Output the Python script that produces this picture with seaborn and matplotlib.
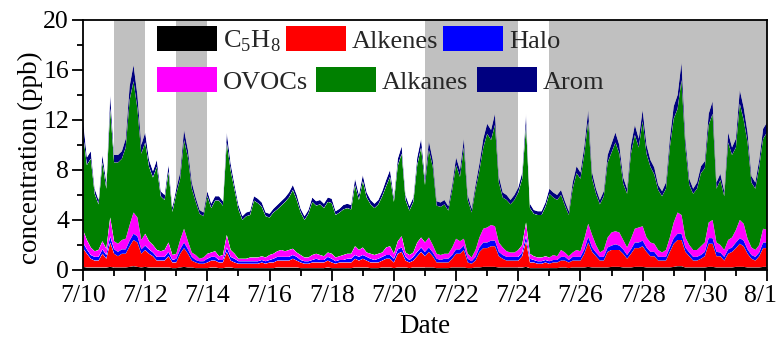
import numpy as np
import pandas as pd
import matplotlib
matplotlib.use("Agg")
import matplotlib.pyplot as plt
import matplotlib.transforms as mtransforms
from matplotlib.patches import Patch
from matplotlib.ticker import FixedLocator, MultipleLocator
import seaborn as sns
import seaborn.objects as so

# 3-hourly VOC group concentrations (ppb), 7/10 00:00 to 8/1 00:00
step_hours = 3

c5h8 = [
    .25, .2, .2, .2, .2, .2, .2, .25,
    .2, .2, .2, .2, .25, .3, .25, .2,
    .25, .2, .2, .2, .2, .2, .2, .15,
    .15, .2, .25, .2, .2, .15, .15, .15,
    .15, .2, .2, .15, .15, .2, .2, .15,
    .15, .15, .15, .15, .15, .15, .15, .15,
    .15, .15, .2, .2, .2, .2, .2, .2,
    .15, .15, .15, .15, .15, .15, .15, .2,
    .15, .15, .15, .15, .15, .15, .2, .2,
    .2, .2, .15, .15, .15, .2, .2, .2,
    .15, .2, .2, .2, .15, .2, .2, .2,
    .2, .2, .2, .15, .15, .15, .15, .2,
    .2, .2, .2, .15, .15, .2, .2, .25,
    .25, .25, .25, .2, .2, .2, .2, .2,
    .2, .2, .25, .15, .15, .15, .15, .15,
    .15, .15, .15, .2, .2, .15, .2, .2,
    .2, .2, .25, .2, .2, .2, .2, .2,
    .25, .25, .25, .2, .2, .2, .25, .25,
    .25, .2, .2, .2, .2, .2, .2, .2,
    .25, .3, .3, .2, .2, .2, .2, .2,
    .2, .25, .25, .2, .2, .2, .2, .2,
    .25, .25, .25, .2, .2, .2, .2, .25,
    .25,
]

alkenes = [
    1.5, 1.1, .7, .55, .55, 1.1, .7, 1.95,
    1.1, .9, 1.1, 1.1, 1.65, 2.1, 1.95, 1.1,
    1.35, 1.1, .9, .55, .55, .55, .9, .45,
    .45, 1.1, 1.5, 1.1, .55, .45, .35, .35,
    .45, .55, .55, .45, .45, 1.25, .55, .45,
    .35, .35, .35, .35, .35, .35, .45, .35,
    .45, .45, .55, .55, .55, .55, .7, .55,
    .45, .35, .35, .45, .45, .45, .45, .55,
    .45, .35, .45, .45, .45, .45, .7, .55,
    .7, .55, .45, .45, .45, .55, .7, .7,
    .45, 1.1, 1.25, .55, .45, .55, .9, 1.25,
    .9, 1.25, .9, .45, .45, .45, .45, .7,
    1.1, 1.1, 1.4, .45, .35, .55, 1.25, 1.5,
    1.5, 1.65, 1.65, .9, .7, .55, .55, .55,
    .55, .9, 2.05, .45, .45, .35, .35, .45,
    .35, .45, .45, .55, .55, .45, .55, .55,
    .55, 1.1, 1.95, 1.25, .9, .55, .55, 1.25,
    1.35, 1.35, 1.35, 1.1, .7, 1.1, 1.5, 1.5,
    1.65, 1.25, .9, .9, .55, .55, .55, 1.25,
    1.85, 2.1, 2.1, 1.25, .9, .55, .55, .7,
    .9, 1.85, 1.85, .9, .9, .55, 1.1, 1.25,
    1.5, 1.85, 1.65, 1.1, .7, .55, .9, 1.5,
    1.5,
]

halo = [
    .45, .35, .3, .3, .3, .35, .3, .5,
    .35, .35, .35, .35, .45, .5, .5, .35,
    .35, .35, .3, .3, .3, .3, .35, .2,
    .3, .35, .45, .35, .3, .2, .2, .2,
    .3, .3, .3, .2, .2, .35, .3, .3,
    .2, .2, .2, .2, .2, .2, .2, .2,
    .2, .3, .3, .3, .3, .3, .3, .3,
    .2, .2, .2, .2, .3, .2, .2, .3,
    .3, .2, .2, .2, .3, .3, .3, .3,
    .3, .3, .3, .2, .3, .3, .3, .3,
    .3, .35, .35, .3, .2, .3, .35, .35,
    .35, .35, .3, .3, .2, .3, .3, .3,
    .35, .35, .35, .3, .2, .3, .35, .45,
    .45, .45, .45, .35, .3, .3, .3, .3,
    .3, .3, .45, .3, .2, .2, .2, .2,
    .2, .2, .2, .3, .3, .2, .3, .3,
    .3, .35, .45, .35, .3, .3, .3, .35,
    .35, .45, .35, .35, .3, .35, .45, .45,
    .45, .35, .35, .35, .3, .3, .3, .35,
    .45, .5, .5, .35, .3, .3, .3, .3,
    .35, .45, .45, .35, .3, .3, .35, .35,
    .45, .45, .45, .35, .3, .3, .3, .45,
    .45,
]

ovocs = [
    1.0, .75, .6, .45, .55, .65, .5, 1.5,
    .65, .65, .75, .85, 1.25, 1.7, 1.5, .75,
    .95, .65, .6, .55, .45, .55, .75, .4,
    .4, .75, 1.1, .65, .35, .4, .2, .3,
    .4, .35, .45, .3, .4, 1.0, .55, .4,
    .2, .2, .2, .3, .3, .3, .3, .3,
    .4, .4, .45, .55, .45, .55, .5, .35,
    .4, .3, .3, .4, .4, .4, .3, .35,
    .4, .3, .3, .4, .4, .4, .7, .55,
    .6, .35, .4, .4, .4, .35, .6, .7,
    .4, .65, .9, .35, .4, .35, .75, .8,
    .75, .8, .6, .4, .4, .4, .4, .6,
    .85, .65, .55, .4, .3, .55, .8, 1.1,
    1.2, 1.25, 1.15, .75, .6, .45, .35, .35,
    .55, .6, 1.05, .4, .3, .3, .3, .3,
    .3, .4, .3, .55, .35, .3, .35, .55,
    .45, .85, 1.05, 1.0, .6, .35, .55, .8,
    1.05, 1.05, 1.05, .75, .6, .85, 1.1, 1.2,
    1.15, .8, .75, .65, .55, .35, .55, .8,
    1.25, 1.7, 1.5, .8, .6, .55, .55, .7,
    .75, 1.25, 1.45, .75, .6, .55, .75, .8,
    1.0, 1.45, 1.35, .85, .6, .55, .6, 1.1,
    1.0,
]

alkanes = [
    7.7, 6.0, 7.1, 4.6, 3.65, 6.3, 4.8, 8.7,
    6.3, 6.5, 6.5, 7.3, 10.0, 10.5, 8.7, 6.9,
    7.3, 5.95, 5.4, 6.65, 4.4, 4.0, 5.65, 3.45,
    4.8, 4.9, 7.1, 6.7, 5.1, 4.25, 3.6, 3.3,
    4.6, 3.55, 4.05, 4.45, 3.95, 7.4, 6.35, 5.1,
    3.95, 3.1, 3.4, 3.4, 4.55, 4.35, 3.95, 3.3,
    3.0, 3.3, 3.35, 3.55, 3.95, 4.2, 4.7, 4.2,
    3.4, 3.0, 3.5, 4.25, 3.85, 4.05, 3.85, 4.05,
    4.05, 3.4, 3.5, 3.65, 3.65, 3.55, 4.9, 4.0,
    5.3, 4.4, 3.95, 3.75, 3.95, 4.5, 4.9, 5.55,
    4.15, 6.05, 6.6, 4.2, 3.55, 4.05, 6.2, 7.2,
    4.6, 7.0, 6.25, 3.85, 3.85, 3.95, 3.45, 4.6,
    5.9, 5.15, 7.3, 4.3, 3.6, 4.8, 5.35, 6.5,
    7.5, 6.8, 8.1, 4.8, 4.0, 4.1, 3.85, 4.2,
    4.6, 5.3, 7.8, 3.65, 3.4, 3.4, 3.4, 3.95,
    5.1, 4.6, 4.5, 4.4, 3.75, 3.3, 5.1, 6.15,
    5.8, 6.8, 8.2, 4.5, 4.1, 3.85, 4.3, 6.0,
    6.4, 7.1, 6.3, 4.5, 4.3, 6.8, 7.5, 6.4,
    8.4, 6.7, 6.05, 5.55, 4.8, 4.5, 4.9, 7.2,
    8.3, 8.3, 10.8, 7.2, 4.8, 4.5, 4.9, 5.85,
    5.95, 7.8, 8.5, 4.3, 5.2, 4.3, 7.8, 6.6,
    6.6, 9.3, 8.3, 7.7, 5.2, 4.9, 6.25, 7.2,
    7.8,
]

arom = [
    1.1, .6, .6, .4, .35, .6, .5, 1.1,
    .6, .6, .6, .7, 1.1, 1.3, 1.1, .7,
    .8, .55, .5, .55, .4, .4, .55, .35,
    .4, .5, .8, .6, .5, .35, .3, .3,
    .4, .35, .35, .35, .35, .8, .55, .4,
    .35, .3, .3, .3, .35, .35, .35, .3,
    .3, .3, .35, .35, .35, .4, .4, .4,
    .3, .3, .3, .35, .35, .35, .35, .35,
    .35, .3, .3, .35, .35, .35, .5, .4,
    .5, .4, .35, .35, .35, .4, .5, .55,
    .35, .55, .6, .4, .35, .35, .6, .7,
    .5, .7, .55, .35, .35, .35, .35, .4,
    .6, .55, .7, .4, .3, .4, .55, .7,
    .8, .8, .9, .5, .4, .4, .35, .4,
    .4, .5, .9, .35, .3, .3, .3, .35,
    .4, .4, .4, .4, .35, .3, .5, .55,
    .5, .6, .9, .5, .4, .35, .4, .6,
    .7, .8, .7, .5, .4, .7, .8, .7,
    .9, .7, .55, .55, .4, .4, .5, .7,
    1.0, 1.1, 1.4, .7, .5, .4, .5, .55,
    .55, .9, 1.0, .5, .5, .4, .8, .6,
    .7, 1.1, 1.0, .8, .5, .5, .55, .8,
    .8,
]

groups = ["C$_\\mathregular{5}$H$_\\mathregular{8}$", "Alkenes", "Halo",
          "OVOCs", "Alkanes", "Arom"]
colors = ["#000000", "#ff0000", "#0000ff", "#ff00ff", "#008000", "#000080"]
series = [c5h8, alkenes, halo, ovocs, alkanes, arom]

# day offsets from 7/10 for the shaded periods
shaded_periods = [(1, 2), (3, 4), (11, 14), (15, 22)]
tick_labels = ["7/10", "7/12", "7/14", "7/16", "7/18", "7/20",
               "7/22", "7/24", "7/26", "7/28", "7/30", "8/1"]

# ---------------------------------------------------------------------------
n = len(c5h8)
day = np.arange(n) * step_hours / 24.0
df = pd.DataFrame({
    "day": np.tile(day, len(series)),
    "group": np.repeat(groups, n),
    "value": np.concatenate([np.asarray(s, float) for s in series]),
})

sns.set_theme(style="ticks")
rc = {
    "font.family": ["Liberation Serif", "DejaVu Serif"],
    "mathtext.fontset": "custom",
    "mathtext.rm": "Liberation Serif",
    "axes.linewidth": 1.3,
    "xtick.direction": "out",
    "ytick.direction": "out",
}
plt.rcParams.update(rc)

fig = plt.figure(figsize=(7.81, 3.38), dpi=100)
ax = fig.add_axes([83 / 781, 1 - 270 / 338, 684 / 781, 250 / 338])

for start, end in shaded_periods:
    ax.axvspan(start, end, color="#c0c0c0", lw=0, zorder=0)

(
    so.Plot(df, x="day", y="value", color="group")
    .add(so.Area(alpha=1, edgewidth=0), so.Stack(), legend=False)
    .scale(color=so.Nominal(dict(zip(groups, colors)), order=groups))
    .theme({**sns.axes_style("ticks"), **rc})
    .on(ax)
    .plot()
)

ax.set_facecolor("white")
ax.set_xlim(0, 22)
ax.set_ylim(0, 20)
ax.xaxis.set_major_locator(FixedLocator(np.arange(0, 23, 2)))
ax.set_xticklabels(tick_labels)
ax.xaxis.set_minor_locator(MultipleLocator(1))
ax.yaxis.set_major_locator(FixedLocator([0, 4, 8, 12, 16, 20]))
ax.set_yticklabels(["0", "4", "8", "12", "16", "20"])
ax.yaxis.set_minor_locator(MultipleLocator(2))
ax.tick_params(which="major", length=8, width=1.3, labelsize=18.5, color="black",
               labelcolor="black", top=False, right=False)
ax.tick_params(which="minor", length=4.5, width=1.3, color="black",
               top=False, right=False)
ax.tick_params(axis="x", which="major", pad=3)
ax.tick_params(axis="y", which="major", pad=2)
# keep the last date label inside the figure edge
last = ax.get_xticklabels()[-1]
last.set_horizontalalignment("right")
last.set_transform(last.get_transform()
                   + mtransforms.ScaledTranslation(10 / 100, 0, fig.dpi_scale_trans))
for side in ["top", "right", "left", "bottom"]:
    ax.spines[side].set_visible(True)
    ax.spines[side].set_color("black")
    ax.spines[side].set_linewidth(1.3)
ax.grid(False)
ax.set_xlabel("Date", fontsize=19.5, color="black", labelpad=5)
ax.set_ylabel("concentration (ppb)", fontsize=19.5, color="black")
ax.yaxis.set_label_coords(-0.058, 0.45)

handles = [Patch(facecolor=c, edgecolor="none") for c in colors]
leg_kw = dict(frameon=False, fontsize=19, handlelength=2.27, handleheight=1.1,
              handletextpad=0.22, borderpad=0, borderaxespad=0, ncol=3,
              loc="upper left", bbox_transform=fig.transFigure)
leg1 = ax.legend(handles[:3], groups[:3], bbox_to_anchor=(157 / 781, 1 - 26 / 338),
                 columnspacing=0.2, **leg_kw)
ax.add_artist(leg1)
ax.legend(handles[3:], groups[3:], bbox_to_anchor=(157 / 781, 1 - 67 / 338),
          columnspacing=0.32, **leg_kw)

fig.savefig("out.png", dpi=100)
